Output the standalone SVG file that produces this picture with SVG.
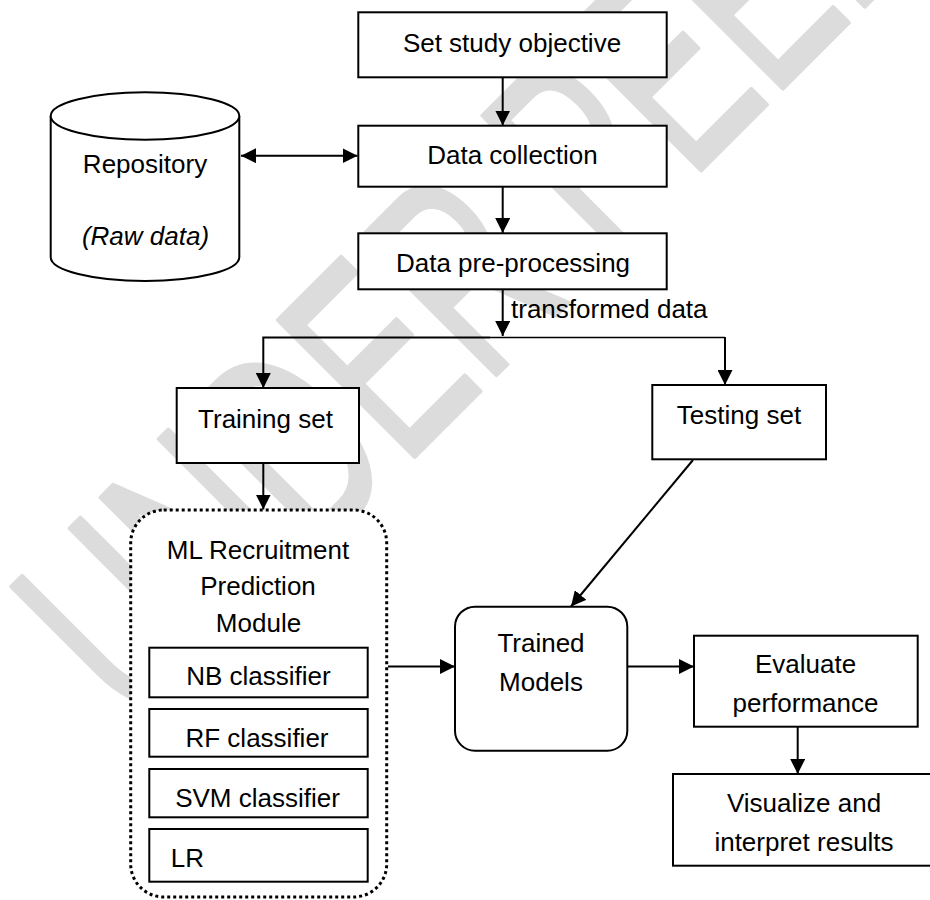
<svg xmlns="http://www.w3.org/2000/svg" width="930" height="900" viewBox="0 0 930 900">
<defs>
<style>
.box{fill:#fff;stroke:#000;stroke-width:2}
.t{font-family:"Liberation Sans",Arial,sans-serif;font-size:26px;fill:#000;text-anchor:middle}
.ln{fill:none;stroke:#000;stroke-width:2}
.wm{font-family:"Liberation Sans",Arial,sans-serif;font-size:280px;fill:#dcdcdc;stroke:#dcdcdc;stroke-width:4;stroke-linejoin:round;vector-effect:non-scaling-stroke}
</style>
<marker id="ah" markerUnits="userSpaceOnUse" markerWidth="15" markerHeight="15" refX="14" refY="7" orient="auto-start-reverse" viewBox="0 0 14 14">
<path d="M0,0 L14,7 L0,14 Z" fill="#000"/>
</marker>
</defs>
<rect width="930" height="900" fill="#fff"/>
<g id="watermark">
<text class="wm" transform="translate(138,733) rotate(-45) scale(0.62,1)">UNDER PEER</text>
</g>
<g id="connectors">
<line class="ln" x1="502.7" y1="77" x2="502.7" y2="125.5" marker-end="url(#ah)"/>
<line class="ln" x1="502.7" y1="187" x2="502.7" y2="233" marker-end="url(#ah)"/>
<line class="ln" x1="241" y1="155.7" x2="357.5" y2="155.7" marker-start="url(#ah)" marker-end="url(#ah)"/>
<line class="ln" x1="502.7" y1="289.5" x2="502.7" y2="336" marker-end="url(#ah)"/>
<path class="ln" d="M490,337.5 H263.3 V388" marker-end="url(#ah)"/>
<path d="M490,337.5 H725" fill="none" stroke="#000" stroke-width="1.4"/>
<line class="ln" x1="725" y1="337" x2="725" y2="385" marker-end="url(#ah)"/>
<line class="ln" x1="263.3" y1="463" x2="263.3" y2="509.5" marker-end="url(#ah)"/>
<line class="ln" x1="693" y1="460" x2="571" y2="606.5" marker-end="url(#ah)"/>
<line class="ln" x1="388" y1="666.5" x2="455" y2="666.5" marker-end="url(#ah)"/>
<line class="ln" x1="627.3" y1="666.5" x2="694" y2="666.5" marker-end="url(#ah)"/>
<line class="ln" x1="797.7" y1="727" x2="797.7" y2="774" marker-end="url(#ah)"/>
</g>
<g id="repository">
<path class="box" d="M50.7,116 V257.3 A94.3,23.7 0 0 0 239.3,257.3 V116"/>
<ellipse class="box" cx="145" cy="116" rx="94.3" ry="23.7"/>
<text class="t" x="145" y="173">Repository</text>
<text class="t" x="145.5" y="245" font-style="italic">(Raw data)</text>
</g>
<g id="set-study-objective">
<rect class="box" x="358.3" y="12.3" width="308.4" height="65"/>
<text class="t" x="512" y="52">Set study objective</text>
</g>
<g id="data-collection">
<rect class="box" x="358.3" y="125.7" width="308.4" height="61"/>
<text class="t" x="512.5" y="163.5">Data collection</text>
</g>
<g id="data-preprocessing">
<rect class="box" x="358.3" y="233.3" width="308.4" height="56"/>
<text class="t" x="513" y="272">Data pre-processing</text>
</g>
<g id="transformed-label">
<text class="t" x="511" y="318" style="text-anchor:start">transformed data</text>
</g>
<g id="training-set">
<rect class="box" x="176.7" y="388" width="182.3" height="75"/>
<text class="t" x="265.5" y="428">Training set</text>
</g>
<g id="testing-set">
<rect class="box" x="652.3" y="385" width="173.7" height="74.3"/>
<text class="t" x="739" y="423.5">Testing set</text>
</g>
<g id="ml-module">
<rect x="130.7" y="510" width="256" height="387" rx="33" fill="#fff" stroke="#000" stroke-width="3" stroke-dasharray="3 3"/>
<text class="t" x="258" y="559">ML Recruitment</text>
<text class="t" x="258" y="595">Prediction</text>
<text class="t" x="258.5" y="631.7">Module</text>
</g>
<g id="nb-classifier">
<rect class="box" x="149.3" y="647.7" width="218.4" height="49.6"/>
<text class="t" x="258.5" y="685">NB classifier</text>
</g>
<g id="rf-classifier">
<rect class="box" x="149.3" y="709" width="218.4" height="47.7"/>
<text class="t" x="257" y="746.7">RF classifier</text>
</g>
<g id="svm-classifier">
<rect class="box" x="149.3" y="769" width="218.4" height="48.3"/>
<text class="t" x="257.5" y="806.7">SVM classifier</text>
</g>
<g id="lr">
<rect class="box" x="149.3" y="829" width="218.4" height="52.7"/>
<text class="t" x="170.7" y="866.7" style="text-anchor:start">LR</text>
</g>
<g id="trained-models">
<rect class="box" x="455" y="606.7" width="172.3" height="144" rx="20"/>
<text class="t" x="541" y="651.7">Trained</text>
<text class="t" x="541" y="690.7">Models</text>
</g>
<g id="evaluate-performance">
<rect class="box" x="694" y="635.7" width="223.7" height="91"/>
<text class="t" x="805.5" y="673">Evaluate</text>
<text class="t" x="805.5" y="711.7">performance</text>
</g>
<g id="visualize">
<rect class="box" x="673" y="774" width="262" height="91.7"/>
<text class="t" x="804" y="811.7">Visualize and</text>
<text class="t" x="804" y="850.7">interpret results</text>
</g>
</svg>
